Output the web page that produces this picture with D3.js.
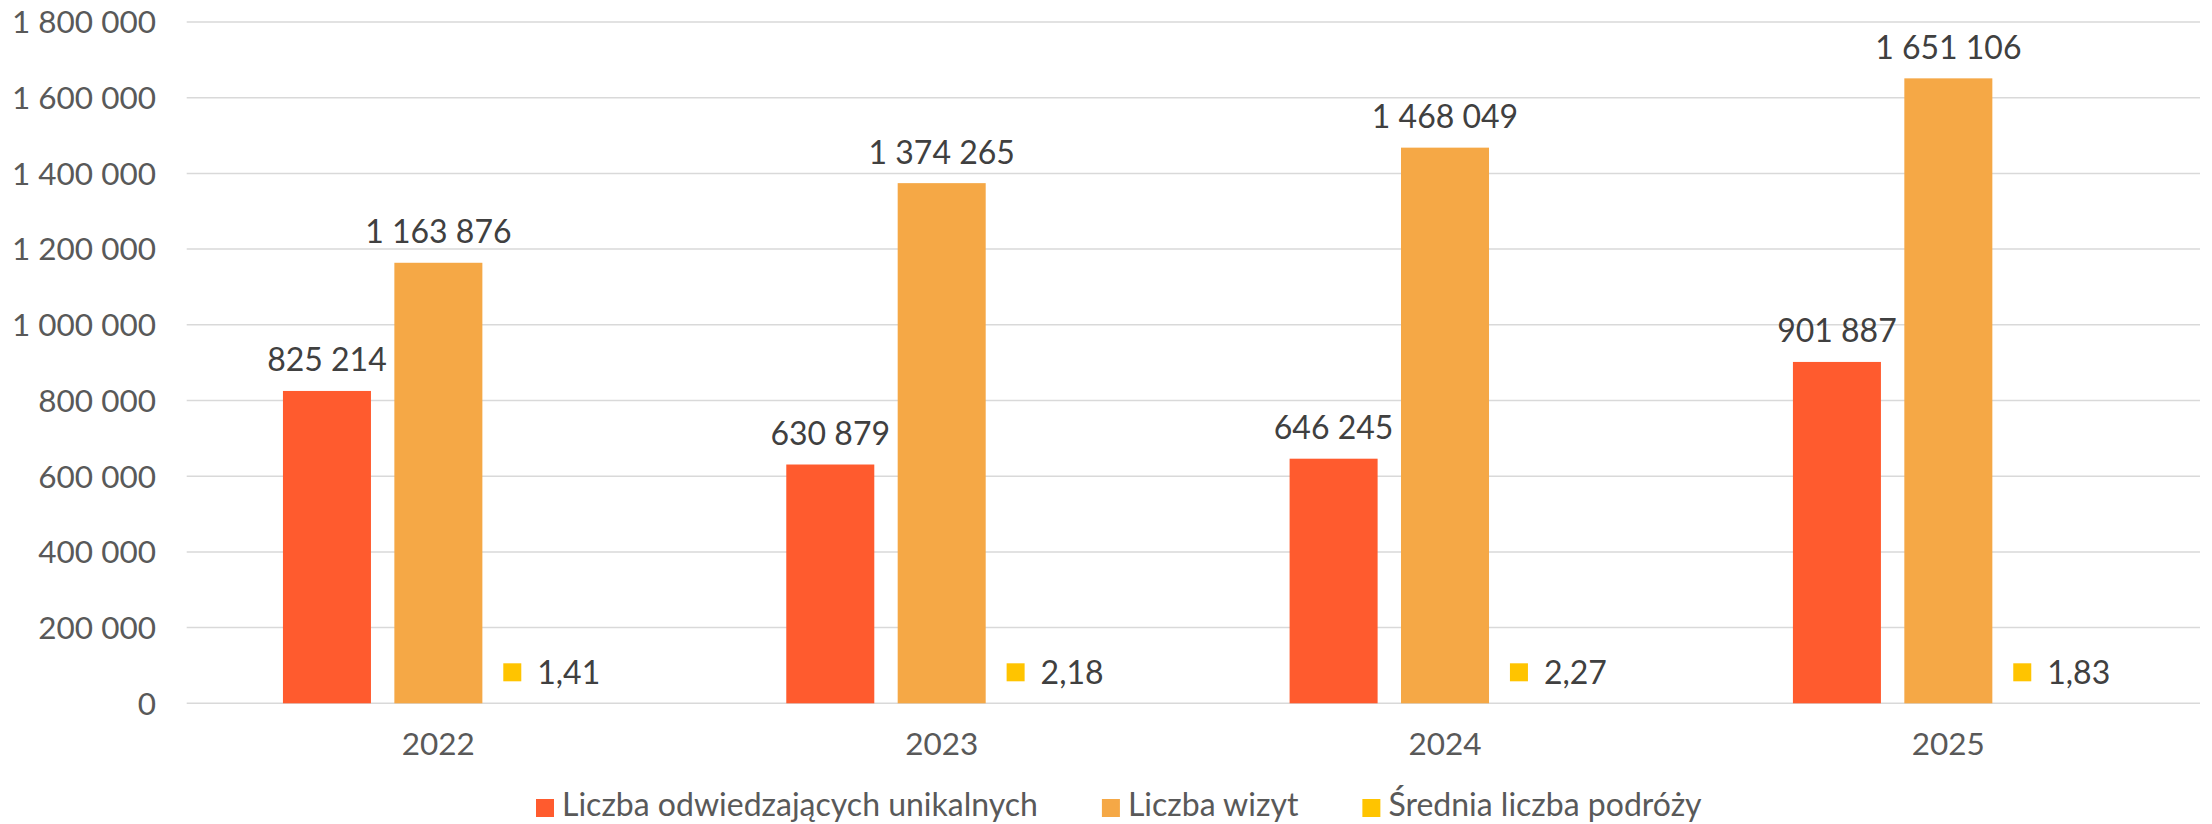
<html>
<head>
<meta charset="utf-8">
<script src="https://d3js.org/d3.v7.min.js"></script>
<style>
body { margin: 0; background: #fff; }
text { font-family: Lato, "Open Sans", sans-serif; }
.tick-label { fill: #595959; font-size: 31.5px; }
.data-label { fill: #404040; font-size: 32px; }
.legend-label { fill: #595959; font-size: 32px; }
</style>
</head>
<body>
<svg width="2212" height="824" class="chart"></svg>
<script>
// chart data
var years = ["2022", "2023", "2024", "2025"];
var seriesNames = ["Liczba odwiedzających unikalnych", "Liczba wizyt", "Średnia liczba podróży"];
var uniqueVisitors = [825214, 630879, 646245, 901887];
var visits = [1163876, 1374265, 1468049, 1651106];
var avgTrips = [1.41, 2.18, 2.27, 1.83];
var yTicks = [0, 200000, 400000, 600000, 800000, 1000000, 1200000, 1400000, 1600000, 1800000];

var colors = ["#FF5B2E", "#F5A846", "#FFC400"];

var pl = d3.formatLocale({decimal: ",", thousands: " ", grouping: [3], currency: ["", ""]});
var fmtInt = pl.format(",");
var fmtDec = pl.format(",.2f");

var svg = d3.select("svg");
var plotLeft = 186.7, plotRight = 2200, plotTop = 22, plotBottom = 703.3;

var x = d3.scaleBand().domain(years).range([plotLeft, plotRight]).padding(0);
var x1 = d3.scaleBand().domain(seriesNames).range([0, x.bandwidth()])
    .paddingInner(0.21).paddingOuter(0.864);
var y = d3.scaleLinear().domain([0, 1800000]).range([plotBottom, plotTop]);

// gridlines
svg.append("g").selectAll("line")
    .data(yTicks)
    .enter().append("line")
    .attr("x1", plotLeft).attr("x2", plotRight)
    .attr("y1", function(d){return y(d)}).attr("y2", function(d){return y(d)})
    .attr("stroke", "#D9D9D9").attr("stroke-width", 1.5);

// y axis labels
svg.append("g").selectAll("text")
    .data(yTicks)
    .enter().append("text")
    .attr("class", "tick-label")
    .attr("x", 156)
    .attr("y", function(d){return y(d)})
    .attr("dy", "0.36em")
    .attr("text-anchor", "end")
    .text(function(d){return fmtInt(d)});

// x axis labels
svg.append("g").selectAll("text")
    .data(years)
    .enter().append("text")
    .attr("class", "tick-label")
    .attr("x", function(d){return x(d) + x.bandwidth()/2})
    .attr("y", 755)
    .attr("text-anchor", "middle")
    .text(function(d){return d});

var table = years.map(function(yr, i){
  return [
    {year: yr, s: seriesNames[0], v: uniqueVisitors[i], c: colors[0], label: fmtInt(uniqueVisitors[i])},
    {year: yr, s: seriesNames[1], v: visits[i], c: colors[1], label: fmtInt(visits[i])},
    {year: yr, s: seriesNames[2], v: avgTrips[i], c: colors[2], label: fmtDec(avgTrips[i]), key: true}
  ];
});
var flat = [].concat.apply([], table);

// bars
svg.append("g").selectAll("rect")
    .data(flat)
    .enter().append("rect")
    .attr("x", function(d){return x(d.year) + x1(d.s)})
    .attr("width", x1.bandwidth())
    .attr("y", function(d){return y(d.v)})
    .attr("height", function(d){return plotBottom - y(d.v)})
    .attr("fill", function(d){return d.c});

// data labels
var labels = svg.append("g").selectAll("g")
    .data(flat)
    .enter().append("g");

labels.each(function(d){
  var g = d3.select(this);
  var cx = x(d.year) + x1(d.s) + x1.bandwidth()/2;
  var base = y(d.v) - 19.5;
  var t = g.append("text")
      .attr("class", "data-label")
      .attr("y", base)
      .text(d.label);
  var w = t.node().getComputedTextLength();
  if (d.key) {
    var total = 18 + 16 + w;
    var x0 = cx - total/2 + 2;
    g.append("rect")
        .attr("x", x0).attr("y", base - 20.5)
        .attr("width", 18).attr("height", 18)
        .attr("fill", d.c);
    t.attr("x", x0 + 34);
  } else {
    t.attr("x", cx).attr("text-anchor", "middle");
  }
});

// legend
var legend = svg.append("g");
var lx = 536;
seriesNames.forEach(function(name, i){
  legend.append("rect")
      .attr("x", lx).attr("y", 799)
      .attr("width", 18).attr("height", 18)
      .attr("fill", colors[i]);
  var t = legend.append("text")
      .attr("class", "legend-label")
      .attr("x", lx + 26).attr("y", 816)
      .text(name);
  lx = lx + 26 + t.node().getComputedTextLength() + 64;
});
</script>
</body>
</html>
